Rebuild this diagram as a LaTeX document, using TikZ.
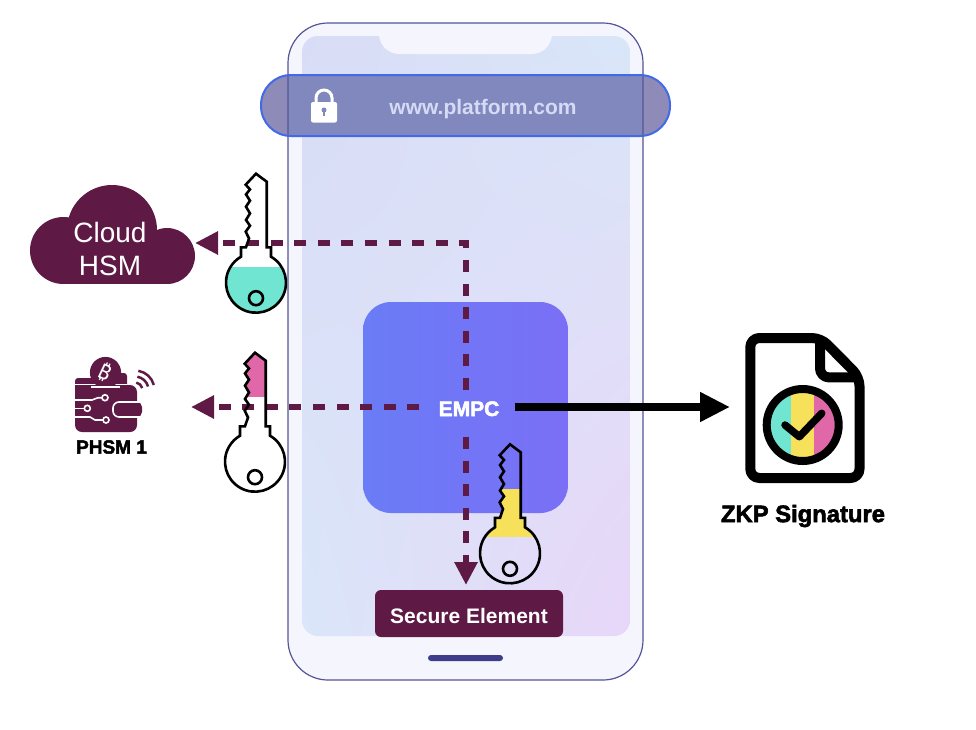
\documentclass[tikz,border=0pt]{standalone}
\usepackage{fontspec}
\setmainfont{Liberation Sans}
\newfontfamily\labelfont{Liberation Sans}
\newfontfamily\heavyfont[BoldFeatures={FakeBold=2.5}]{Liberation Sans}
\newfontfamily\iconfont{Noto Sans}
\definecolor{maroon}{RGB}{94,26,69}
\definecolor{phonebg}{RGB}{245,245,254}
\definecolor{phoneline}{RGB}{84,84,150}
\definecolor{homebar}{RGB}{61,61,138}
\definecolor{barouter}{RGB}{142,139,184}
\definecolor{barinner}{RGB}{128,136,189}
\definecolor{barline}{RGB}{65,105,232}
\definecolor{urltext}{RGB}{213,218,245}
\definecolor{screenll}{RGB}{218,230,249}
\definecolor{screenlr}{RGB}{232,214,248}
\definecolor{screenul}{RGB}{217,220,246}
\definecolor{screenur}{RGB}{217,230,248}
\definecolor{empcleft}{RGB}{106,124,246}
\definecolor{empcright}{RGB}{122,111,246}
\definecolor{keyteal}{RGB}{111,229,210}
\definecolor{keyyellow}{RGB}{247,224,90}
\definecolor{keypink}{RGB}{224,103,168}
\usetikzlibrary{arrows.meta}
\usetikzlibrary{shadings}
\newcommand{\keypath}{(0,-109) -- (10.7,-101) -- (10.7,-35.4) -- (15,-35.4) -- (15,-26) arc[start angle=-60, end angle=240, radius=30] -- (-15,-35.4) -- (-10,-35.4) -- (-7,-44.3) -- (-10.3,-51) -- (-6,-57) -- (-10,-62.7) -- (-6,-69.3) -- (-10,-76) -- (-6,-82) -- (-10,-88.3) -- (-6,-93.3) -- (-10.3,-98) -- cycle}
\tikzset{
  dashline/.style={maroon, line width=5.8pt, dash pattern=on 12pt off 11.6pt, -{Triangle[length=23pt, width=22pt]}},
  signline/.style={black, line width=7.5pt, -{Triangle[length=30pt, width=28pt]}},
  keyline/.style={black, line width=2.6pt, line join=miter},
  wave/.style={maroon, line width=2.5pt},
  circuit/.style={white, line width=1.6pt},
  pics/keyicon/.style n args={3}{code={
    \begin{scope}
      \clip \keypath;
      \fill[#3] (-31,#1) rectangle (31,#2);
    \end{scope}
    \draw[keyline] \keypath;
    \draw[keyline] (0,15.5) circle (7);
  }}
}

\begin{document}
\begin{tikzpicture}[x=1pt, y=-1pt]
  \useasboundingbox (0,0) rectangle (976,729);

  \fill[phonebg, rounded corners=40] (288,23) rectangle (643,680);
  \shade[rounded corners=16, shading=bilinear interpolation, lower left=screenll, lower right=screenlr, upper left=screenul, upper right=screenur] (302,36) rectangle (630,636);
  \fill[phonebg] (379,30) -- (379,36) .. controls (381,48) and (390,54) .. (400,54) -- (531,54) .. controls (541,54) and (550,48) .. (552,36) -- (552,30) -- cycle;

  \fill[barouter, rounded corners=30] (261,75) rectangle (670,136);
  \fill[barinner] (288,75) rectangle (643,136);
  \draw[phoneline, line width=1.2pt, rounded corners=40] (288,23) rectangle (643,680);
  \draw[barline, line width=2pt, rounded corners=30] (261,75) rectangle (670,136);
  \fill[homebar, rounded corners=3] (428,655) rectangle (503,661);

  \fill[white, rounded corners=2] (311,102) rectangle (337,122.5);
  \draw[white, line width=3pt] (316,103) -- (316,98) arc[start angle=180, end angle=360, radius=8] -- (332,103);
  \fill[barinner] (324,110) circle (2.5);
  \fill[barinner] (323,110) rectangle (325,116);
  \node[text=urltext, inner sep=0pt, font=\labelfont\bfseries\fontsize{21}{21}\selectfont] (url) at (483,109) {www.platform.com};

  \shade[rounded corners=28, left color=empcleft, right color=empcright] (363,302) rectangle (568,513);
  \node[text=white, font=\heavyfont\bfseries\fontsize{21}{21}\selectfont, inner xsep=19pt, inner ysep=0pt, text height=18pt, text depth=0pt] (empc) at (469,407) {EMPC};
  \coordinate (empctop) at (466,390);
  \coordinate (empcbot) at (466,437);

  \fill[maroon] (63.5,250.5) circle (33.5) (112,230) circle (45) (167,256) circle (28);
  \fill[maroon] (63,240) rectangle (167,284);
  \node[text=white, font=\fontsize{28}{28}\selectfont, inner sep=0pt] (cloud) at (110,232) {Cloud};
  \node[text=white, font=\fontsize{28}{28}\selectfont, inner sep=0pt] (hsm) at (110,266) {HSM};
  \coordinate (cloudtip) at (195,243);

  \fill[maroon, rounded corners=3] (75,378) rectangle (118,395);
  \fill[maroon, rounded corners=3] (112,373) rectangle (127,395);
  \draw[circuit] (75,384.5) -- (127,384.5);
  \fill[maroon, rounded corners=7] (75,385) rectangle (137,432);
  \fill[maroon] (105.5,372.5) circle (15.6);
  \draw[circuit] (91,387) -- (120,387);
  \node[text=white, rotate=-25, font=\iconfont\bfseries\fontsize{21}{21}\selectfont, inner sep=0pt] (coin) at (105.5,372.5) {₿};
  \draw[wave] (135,390) ++(-80:7.5) arc[start angle=-80, end angle=-15, radius=7.5];
  \draw[wave] (135,390) ++(-80:13.5) arc[start angle=-80, end angle=-15, radius=13.5];
  \draw[wave] (135,390) ++(-80:19.5) arc[start angle=-80, end angle=-15, radius=19.5];
  \fill[maroon, rounded corners=5] (113,402) rectangle (142,417);
  \draw[circuit, rounded corners=6] (142,402) -- (113,402) -- (113,417) -- (142,417);
  \draw[circuit] (75,400) -- (92,400) -- (98,397.7) -- (102,397.7);
  \draw[circuit] (105,397.7) circle (3);
  \draw[circuit] (75,408.3) -- (84.3,408.3);
  \draw[circuit] (87.3,408.3) circle (3);
  \draw[circuit] (75,417) -- (90,417) -- (95,420) -- (103,420);
  \draw[circuit] (106,420) circle (3);
  \node[inner sep=0pt, font=\heavyfont\bfseries\fontsize{19}{19}\selectfont] (phsm) at (111.5,447) {PHSM 1};
  \coordinate (phsmtip) at (191,407);

  \node[fill=maroon, text=white, rounded corners=6, minimum width=188pt, minimum height=47pt, inner sep=0pt, text height=19pt, text depth=0pt, font=\labelfont\bfseries\fontsize{21}{21}\selectfont] (secure) at (469,613.5) {Secure Element};
  \coordinate (securetip) at (466,585);

  \draw[dashline] (empctop) |- (cloudtip);
  \draw[dashline] (empc.west) -- (phsmtip);
  \draw[dashline] (empcbot) -- (securetip);

  \path (256,282.7) pic {keyicon={-16}{31}{keyteal}};
  \path (255,461.7) pic {keyicon={-110}{-65}{keypink}};
  \path (510,553.3) pic {keyicon={-64}{-16}{keyyellow}};

  \begin{scope}
    \clip (802.7,425) circle (33);
    \fill[keyteal] (760,380) rectangle (791,470);
    \fill[keyyellow] (791,380) rectangle (814.3,470);
    \fill[keypink] (814.3,380) rectangle (850,470);
  \end{scope}
  \draw[black, line width=8pt] (802.7,425) circle (36);
  \draw[black, line width=7.5pt, line cap=round, line join=round] (785,425) -- (799.3,436.7) -- (821.7,413.3);
  \draw[black, line width=10pt, line join=round, rounded corners=9] (750.3,338) -- (821,338) -- (859.5,377) -- (859.5,478) -- (750.3,478) -- cycle;
  \draw[black, line width=10pt, line join=round, rounded corners=9] (820,340) -- (820,377.4) -- (859,377.4);
  \coordinate (docleft) at (730,407);
  \draw[signline, shorten <=-4pt] (empc.east) -- (docleft);
  \node[inner sep=0pt, font=\heavyfont\bfseries\fontsize{23.8}{23.8}\selectfont] (zkp) at (803,516) {ZKP Signature};
\end{tikzpicture}
\end{document}
